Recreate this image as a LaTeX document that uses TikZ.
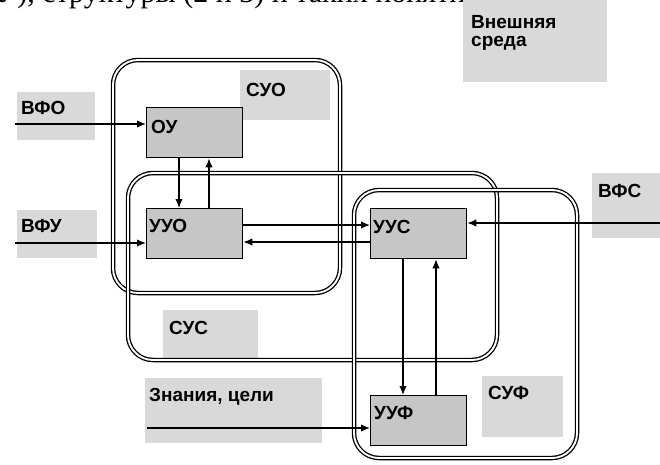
\documentclass[tikz,border=0pt]{standalone}
\usepackage{fontspec}
\setmainfont{Liberation Sans}
\newfontfamily\serifcut{Liberation Serif}
\usetikzlibrary{arrows.meta}
\tikzset{
  sysbox/.style={draw=black, line width=1.3pt, double=white, double distance=1.9pt, rounded corners=25pt},
  unitbox/.style={draw=black, line width=1.3pt, fill=gray!45, minimum width=96pt, minimum height=50pt, inner sep=0pt, anchor=north west},
  tagbox/.style={fill=gray!30, inner sep=0pt, anchor=north west},
  lbl/.style={font=\bfseries\fontsize{19}{22}\selectfont, inner sep=0pt, anchor=west},
  arr/.style={line width=1.4pt, -{Latex[length=9pt,width=7.5pt]}}
}
\begin{document}
\begin{tikzpicture}[x=1pt,y=-1pt]
\useasboundingbox (0,0) rectangle (660,464);

% cut-off line of the page above
\node[anchor=base west, inner sep=0pt, font=\serifcut\fontsize{30}{32}\selectfont] (toptext) at (-4,2) {У), структуры (2 и 3) и таких понятий, как};

% shaded tags
\node[tagbox, minimum width=144pt, minimum height=82pt] (envbg) at (463,0) {};
\node[lbl] (env1) at (471,22) {Внешняя};
\node[lbl] (env2) at (471,43) {среда};

\node[tagbox, minimum width=78pt, minimum height=48pt] (vfobg) at (17,92) {};
\node[lbl] (vfo) at (21,108) {ВФО};
\node[tagbox, minimum width=80pt, minimum height=48pt] (vfubg) at (17,210) {};
\node[lbl] (vfu) at (21,226) {ВФУ};
\node[tagbox, minimum width=68pt, minimum height=65pt] (vfsbg) at (592,173) {};
\node[lbl] (vfs) at (598,191) {ВФС};
\node[tagbox, minimum width=90pt, minimum height=50pt] (suobg) at (240,70) {};
\node[lbl] (suo) at (246,90) {СУО};
\node[tagbox, minimum width=95pt, minimum height=50pt] (susbg) at (163,310) {};
\node[lbl] (sus) at (169,328) {СУС};
\node[tagbox, minimum width=81pt, minimum height=61pt] (sufbg) at (482,376) {};
\node[lbl] (suf) at (488,393) {СУФ};
\node[tagbox, minimum width=177pt, minimum height=65pt] (zcbg) at (145,378) {};
\node[lbl] (zc) at (149,397) {Знания, цели};

% systems
\draw[sysbox] (113,60) rectangle (340,293);
\draw[sysbox] (128,173) rectangle (497,360);
\draw[sysbox] (354,190) rectangle (577,458);

% units
\node[unitbox] (OU) at (146,107) {};
\node[lbl] (OUt) at (151,127) {ОУ};
\node[unitbox] (UUO) at (146,208) {};
\node[lbl] (UUOt) at (149,226) {УУО};
\node[unitbox] (UUS) at (370,208) {};
\node[lbl] (UUSt) at (373,227) {УУС};
\node[unitbox] (UUF) at (370,395) {};
\node[lbl] (UUFt) at (374,413) {УУФ};

% inputs
\coordinate (inVFO) at (15,124);
\coordinate (inVFU) at (15,243);
\coordinate (inVFS) at (660,223);
\coordinate (inZC) at (147,428);
\draw[arr] (inVFO) -- (inVFO -| OU.west);
\draw[arr] (inVFU) -- (inVFU -| UUO.west);
\draw[arr] (inVFS) -- (inVFS -| UUS.east);
\draw[arr] (inZC) -- (inZC -| UUF.west);

% links
\draw[arr] ([xshift=33pt]OU.south west) -- ([xshift=33pt]UUO.north west);
\draw[arr] ([xshift=63pt]UUO.north west) -- ([xshift=63pt]OU.south west);
\draw[arr] ([yshift=-17pt]UUO.north east) -- ([yshift=-17pt]UUS.north west);
\draw[arr] ([yshift=-34pt]UUS.north west) -- ([yshift=-34pt]UUO.north east);
\draw[arr] ([xshift=33pt]UUS.south west) -- ([xshift=33pt]UUF.north west);
\draw[arr] ([xshift=66pt]UUF.north west) -- ([xshift=66pt]UUS.south west);
\end{tikzpicture}
\end{document}
